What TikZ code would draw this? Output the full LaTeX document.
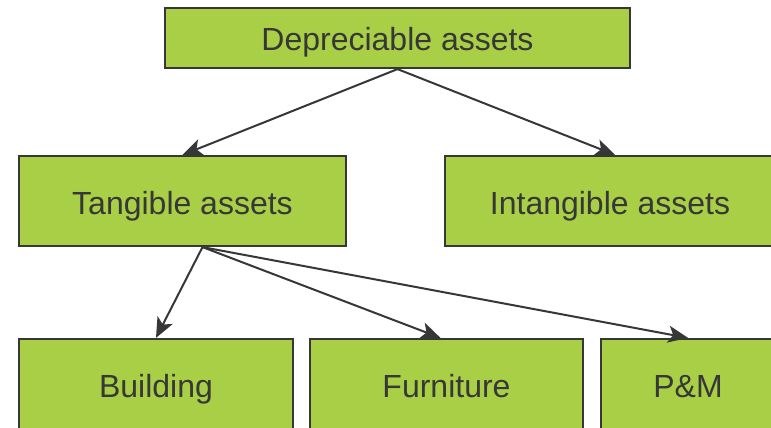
\documentclass[tikz,border=0pt]{standalone}
\usepackage{fontspec}
\setmainfont{Liberation Sans}
\usepackage{xcolor}
\usepackage{tikz}
\usetikzlibrary{arrows.meta, positioning}

\definecolor{boxgreen}{RGB}{169,207,70}
\definecolor{edgegray}{RGB}{55,55,55}

\begin{document}
\begin{tikzpicture}[
    x=1pt, y=-1pt,
    every node/.style={font=\fontsize{32}{38}\selectfont, text=edgegray},
    assetbox/.style={
        rectangle,
        minimum height=90pt,
        text height=28pt,
        text depth=2pt,
        text centered,
        fill=boxgreen,
        draw=edgegray,
        line width=2.2pt,
        inner sep=0pt
    },
    arrow/.style={line width=2pt, draw=edgegray, -{Stealth[length=20pt, width=17pt, inset=5pt]}}
]

\clip (0,0) rectangle (771,428);

\node (depr) [assetbox, minimum width=465pt, minimum height=60pt] at (397.5,38) {Depreciable assets};

\node (tang)   [assetbox, minimum width=327pt] at (182.5,201) {Tangible assets};
\node (intang) [assetbox, minimum width=330pt] at (610,201)   {Intangible assets};

\node (build) [assetbox, minimum width=274pt] at (156,384)   {Building};
\node (furn)  [assetbox, minimum width=273pt] at (446.5,384) {Furniture};
\node (pm)    [assetbox, minimum width=174pt] at (688,384)   {P\&M};

\draw [arrow] (depr.south) -- (tang.north);
\draw [arrow] (depr.south) -- ([xshift=5pt]intang.north);
\draw [arrow] ([xshift=20pt]tang.south) -- (build.north);
\draw [arrow] ([xshift=20pt]tang.south) -- ([xshift=-6pt]furn.north);
\draw [arrow] ([xshift=20pt]tang.south) -- (pm.north);

\end{tikzpicture}
\end{document}
